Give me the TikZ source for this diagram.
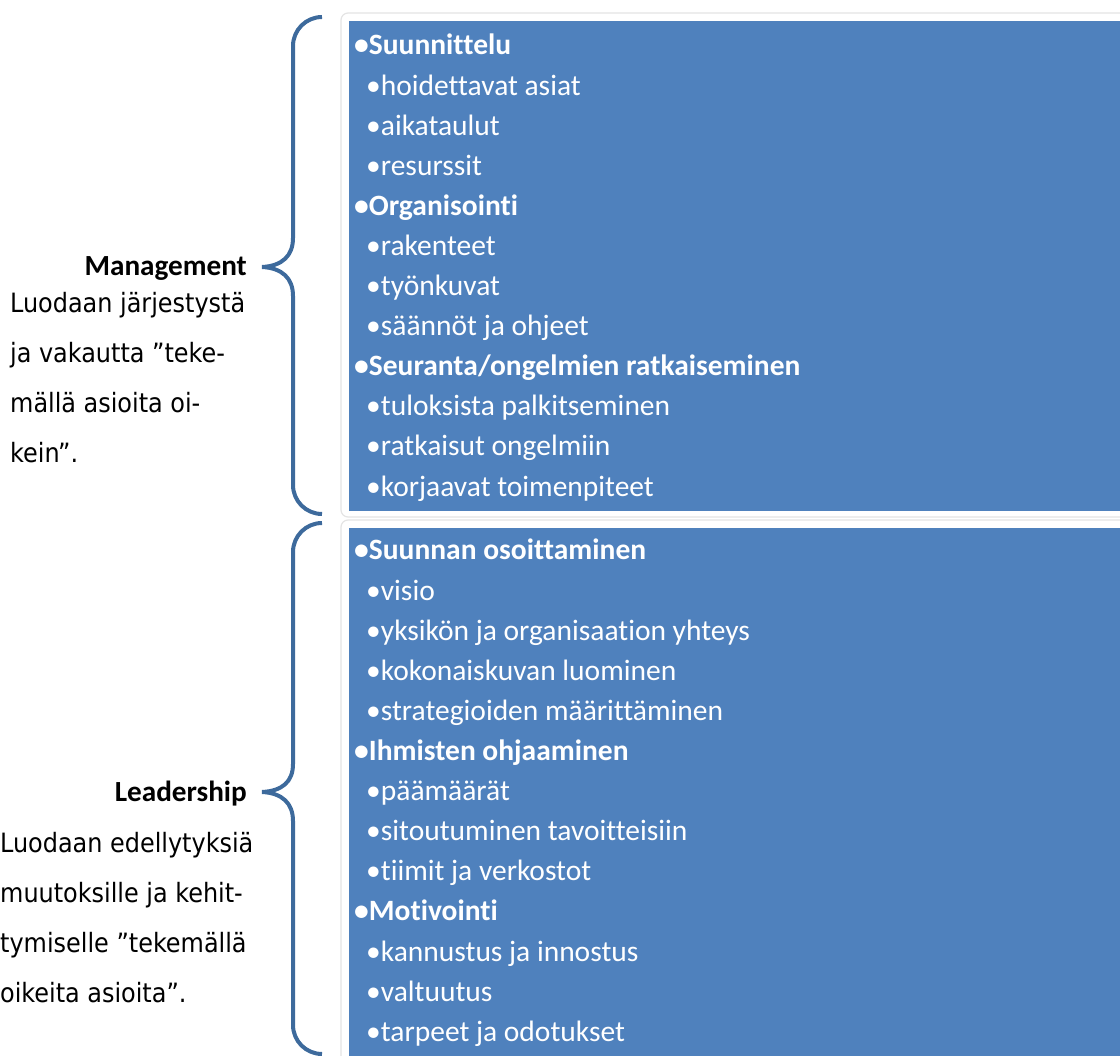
\documentclass[tikz,border=0pt]{standalone}
\usepackage{fontspec}
\setmainfont{Carlito}[Ligatures={NoCommon,NoRare,NoContextual}]
\newfontfamily\descfont{DejaVu Sans Condensed}
\definecolor{boxblue}{HTML}{4F81BD}
\definecolor{bracecol}{HTML}{3D6A9C}
\definecolor{framegray}{HTML}{E4E4E4}
\begin{document}
\begin{tikzpicture}[x=1pt,y=-1pt,
  panel/.style={fill=boxblue,draw=none},
  panelframe/.style={draw=framegray,line width=1.2pt,fill=white,rounded corners=7pt},
  brace/.style={draw=bracecol,line width=4pt,line cap=butt},
  head/.style={anchor=base west,inner sep=0pt,text=white,font=\fontsize{29.5}{34}\selectfont\bfseries},
  item/.style={anchor=base west,inner sep=0pt,text=white,font=\fontsize{29.5}{34}\selectfont},
  label/.style={anchor=base east,inner sep=0pt,font=\fontsize{29.2}{34}\selectfont\bfseries},
  desc/.style={anchor=base west,inner sep=0pt,font=\descfont\fontsize{26.6}{30}\selectfont}]
\useasboundingbox (0,0) rectangle (1120,1056);

% panel frames and fills
\draw[panelframe] (341,13) rectangle (1135,517);
\draw[panelframe] (341,520) rectangle (1135,1070);
\fill[panel] (349,21) rectangle (1120,511);
\fill[panel] (349,528) rectangle (1120,1056);

% upper brace
\draw[brace] (322,17) .. controls (306,17) and (293,30) .. (293,46) -- (293,238)
  .. controls (293,256) and (282,266) .. (262,267)
  .. controls (282,268) and (293,278) .. (293,296)
  -- (293,485) .. controls (293,501) and (306,514) .. (322,514);
% lower brace
\draw[brace] (322,523) .. controls (306,523) and (293,536) .. (293,552) -- (293,764)
  .. controls (293,782) and (282,791) .. (262,792)
  .. controls (282,793) and (293,803) .. (293,821)
  -- (293,1025) .. controls (293,1041) and (306,1054) .. (322,1054);

% labels
\node[label] (mgmt) at (247,276) {Management};
\node[desc] (mgmtd1) at (10,313) {Luodaan järjestystä};
\node[desc] (mgmtd2) at (10,363) {ja vakautta ”teke-};
\node[desc] (mgmtd3) at (10,413) {mällä asioita oi-};
\node[desc] (mgmtd4) at (10,463) {kein”.};

\node[label] (lead) at (247,801) {Leadership};
\node[desc] (leadd1) at (0,852) {Luodaan edellytyksiä};
\node[desc] (leadd2) at (0,902) {muutoksille ja kehit-};
\node[desc] (leadd3) at (0,952) {tymiselle ”tekemällä};
\node[desc] (leadd4) at (0,1002) {oikeita asioita”.};

% upper panel text
\node[head] (a1) at (354,55.0) {•Suunnittelu};
\node[item] (a2) at (366,95.1) {•hoidettavat asiat};
\node[item] (a3) at (366,135.2) {•aikataulut};
\node[item] (a4) at (366,175.3) {•resurssit};
\node[head] (a5) at (354,215.4) {•Organisointi};
\node[item] (a6) at (366,255.5) {•rakenteet};
\node[item] (a7) at (366,295.6) {•työnkuvat};
\node[item] (a8) at (366,335.7) {•säännöt ja ohjeet};
\node[head] (a9) at (354,375.8) {•Seuranta/ongelmien ratkaiseminen};
\node[item] (a10) at (366,415.9) {•tuloksista palkitseminen};
\node[item] (a11) at (366,456.0) {•ratkaisut ongelmiin};
\node[item] (a12) at (366,496.1) {•korjaavat toimenpiteet};

% lower panel text
\node[head] (b1) at (354,560.0) {•Suunnan osoittaminen};
\node[item] (b2) at (366,600.1) {•visio};
\node[item] (b3) at (366,640.2) {•yksikön ja organisaation yhteys};
\node[item] (b4) at (366,680.3) {•kokonaiskuvan luominen};
\node[item] (b5) at (366,720.4) {•strategioiden määrittäminen};
\node[head] (b6) at (354,760.5) {•Ihmisten ohjaaminen};
\node[item] (b7) at (366,800.6) {•päämäärät};
\node[item] (b8) at (366,840.7) {•sitoutuminen tavoitteisiin};
\node[item] (b9) at (366,880.8) {•tiimit ja verkostot};
\node[head] (b10) at (354,920.9) {•Motivointi};
\node[item] (b11) at (366,961.0) {•kannustus ja innostus};
\node[item] (b12) at (366,1001.1) {•valtuutus};
\node[item] (b13) at (366,1041.2) {•tarpeet ja odotukset};
\end{tikzpicture}
\end{document}
